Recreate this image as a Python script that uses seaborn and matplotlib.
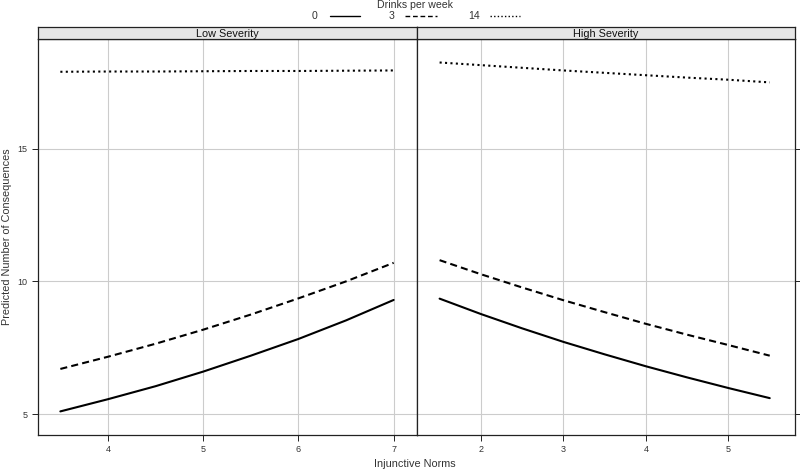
import numpy as np
import pandas as pd
import matplotlib
matplotlib.use("Agg")
import matplotlib.pyplot as plt
from matplotlib.lines import Line2D
import seaborn as sns

# DATA: predicted consequences
low_norms = [3.5, 4.0, 4.5, 5.0, 5.5, 6.0, 6.5, 7.0]
low_d0 = [5.1, 5.56, 6.05, 6.6, 7.2, 7.83, 8.53, 9.3]
low_d3 = [6.7, 7.16, 7.65, 8.18, 8.75, 9.36, 10.0, 10.7]
low_d14 = [17.9, 17.91, 17.91, 17.92, 17.93, 17.93, 17.94, 17.95]

high_norms = [1.5, 2.0, 2.5, 3.0, 3.5, 4.0, 4.5, 5.0, 5.5]
high_d0 = [9.35, 8.77, 8.23, 7.72, 7.25, 6.8, 6.38, 5.98, 5.6]
high_d3 = [10.8, 10.27, 9.77, 9.29, 8.84, 8.4, 7.99, 7.6, 7.2]
high_d14 = [18.25, 18.15, 18.05, 17.95, 17.86, 17.77, 17.68, 17.6, 17.5]

drinks = ["0", "3", "14"]
panels = ["Low Severity", "High Severity"]
low_xticks = [4, 5, 6, 7]
high_xticks = [2, 3, 4, 5]
yticks = [5, 10, 15]


def panel_frame(x, series):
    rows = []
    for d, vals in zip(drinks, series):
        for xi, yi in zip(x, vals):
            rows.append({"norms": xi, "pred": yi, "drinks": d})
    return pd.DataFrame(rows)


df_low = panel_frame(low_norms, [low_d0, low_d3, low_d14])
df_high = panel_frame(high_norms, [high_d0, high_d3, high_d14])

sns.set_style("white")
plt.rcParams['font.family'] = ['Liberation Sans', 'DejaVu Sans']
txt = "#333333"
dashes = {"0": "", "3": (3.4, 2.0), "14": (1.0, 1.6)}

fig = plt.figure(figsize=(8, 4.72), dpi=100)
W, H = 800.0, 472.0
top_px, bot_px, strip_top = 39.3, 435.0, 26.7
edges = [(37.5, 416.5), (416.5, 794.5)]
ylim = (5 - (435 - 414) / 26.6, 15 + (149 - 39.3) / 26.6)
xlims = [(3.26, 7.24), (1.22, 5.8)]

axes = []
for i, (l, r) in enumerate(edges):
    ax = fig.add_axes([l / W, 1 - bot_px / H, (r - l) / W, (bot_px - top_px) / H])
    data = df_low if i == 0 else df_high
    sns.lineplot(data=data, x="norms", y="pred", style="drinks",
                 style_order=drinks, dashes=dashes, color="black",
                 linewidth=1.5, ax=ax, legend=False)
    ax.set_xlim(*xlims[i])
    ax.set_ylim(*ylim)
    ax.set_xticks(low_xticks if i == 0 else high_xticks)
    ax.set_yticks(yticks)
    ax.grid(True, color="#cccccc", linewidth=0.8)
    ax.set_axisbelow(True)
    ax.set_xlabel("")
    ax.set_ylabel("")
    for s in ax.spines.values():
        s.set_color("#222222")
        s.set_linewidth(0.9)
        s.set_visible(True)
    ax.tick_params(axis="both", direction="out", length=4, width=0.7,
                   color="#222222", labelsize=6.5, labelcolor=txt, pad=3)
    if i == 0:
        ax.tick_params(axis="y", left=True, right=False, labelleft=True)
    else:
        ax.tick_params(axis="y", left=False, right=True, labelleft=False,
                       labelright=False)
    ax.tick_params(axis="x", bottom=True)
    # strip
    sax = fig.add_axes([l / W, 1 - top_px / H, (r - l) / W, (top_px - strip_top) / H])
    sax.set_facecolor("#e6e6e6")
    sax.set_xticks([])
    sax.set_yticks([])
    for s in sax.spines.values():
        s.set_color("#222222")
        s.set_linewidth(0.9)
    sax.text(0.5, 0.45, panels[i], ha="center", va="center", fontsize=7.8,
             color="#111111", transform=sax.transAxes)
    axes.append(ax)

fig.text(415 / W, 1 - 5 / H, "Drinks per week", ha="center", va="center",
         fontsize=7.6, color=txt)
leg_items = [("0", 315, 330, 360), ("3", 392, 405, 437), ("14", 474, 490, 520)]
for (lab, tx, x0, x1), d in zip(leg_items, drinks):
    fig.text(tx / W, 1 - 16 / H, lab, ha="center", va="center", fontsize=7.6,
             color=txt)
    ln = Line2D([x0 / W, x1 / W], [1 - 16 / H, 1 - 16 / H], transform=fig.transFigure,
                color="black", linewidth=1.0)
    if dashes[d]:
        ln.set_dashes(dashes[d])
    fig.add_artist(ln)

fig.text(7 / W, 1 - 237 / H, "Predicted Number of Consequences", rotation=90,
         ha="center", va="center", fontsize=7.8, color=txt)
fig.text(415 / W, 1 - 464 / H, "Injunctive Norms", ha="center", va="center",
         fontsize=7.8, color=txt)

fig.savefig("out.png", dpi=100)
